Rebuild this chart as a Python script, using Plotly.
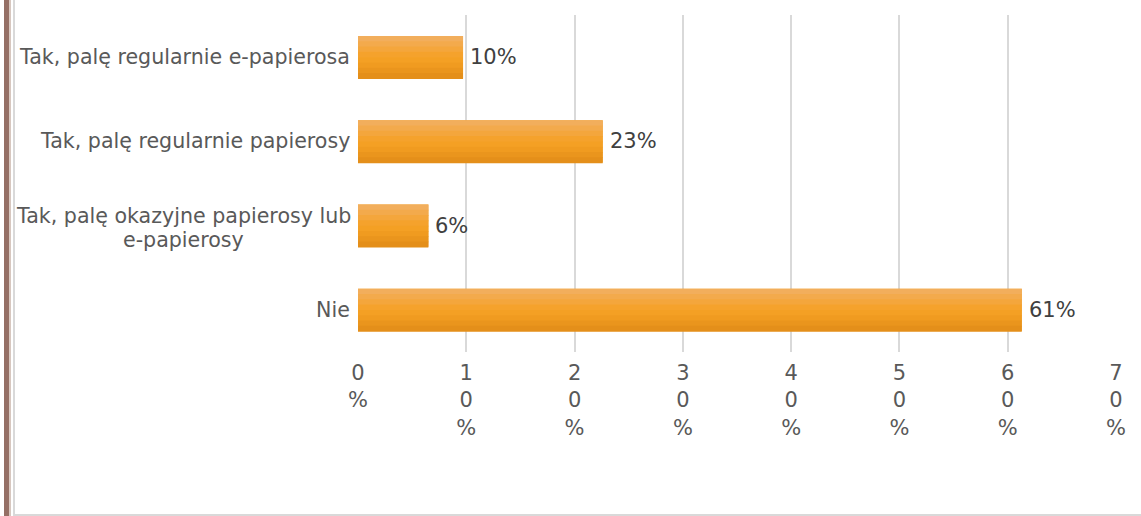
import plotly.graph_objects as go

categories = [
    "Tak, palę regularnie e-papierosa",
    "Tak, palę regularnie papierosy",
    "Tak, palę okazyjne papierosy lub<br>e-papierosy",
    "Nie",
]
values = [9.7, 22.6, 6.5, 61.3]
value_labels = ["10%", "23%", "6%", "61%"]
tick_vals = [0, 10, 20, 30, 40, 50, 60, 70]
tick_text = ["0<br>%", "1<br>0<br>%", "2<br>0<br>%", "3<br>0<br>%",
             "4<br>0<br>%", "5<br>0<br>%", "6<br>0<br>%", "7<br>0<br>%"]

W, H = 1141, 516
ML, MR, MT, MB = 358, 25, 15, 164
PW = W - ML - MR
PH = H - MT - MB

FONT = "DejaVu Sans"

fig = go.Figure()

# base bar
fig.add_trace(go.Bar(
    y=categories, x=values, orientation="h", width=0.5,
    marker=dict(color="#F29E25", line=dict(width=0)),
    hoverinfo="skip", showlegend=False,
))

# gradient slices (light top -> saturated middle -> darker bottom)
grad = ["#F2AE5C", "#F3AA4C", "#F4A63C", "#F5A22C", "#F4A024",
        "#F09B20", "#EA951D", "#E48F1A"]
n = len(grad)
sw = 0.5 / n
for i, c in enumerate(grad):
    fig.add_trace(go.Bar(
        y=categories, x=values, orientation="h",
        width=sw * 1.15, offset=-0.25 + i * sw,
        marker=dict(color=c, line=dict(width=0)),
        hoverinfo="skip", showlegend=False,
    ))

fig.update_layout(
    width=W, height=H,
    margin=dict(l=ML, r=MR, t=MT, b=MB),
    paper_bgcolor="white", plot_bgcolor="white",
    barmode="overlay", bargap=0.5,
    font=dict(family=FONT, color="#595959"),
    xaxis=dict(
        range=[0, 70], tickvals=tick_vals, ticktext=tick_text,
        showgrid=True, gridcolor="#D9D9D9", gridwidth=2,
        zeroline=False, showline=False, ticks="",
        ticklabelstandoff=6,
        tickfont=dict(family=FONT, size=21, color="#595959"),
        fixedrange=True,
    ),
    yaxis=dict(
        categoryorder="array", categoryarray=categories,
        autorange="reversed", showticklabels=False,
        showgrid=False, zeroline=False, showline=False, ticks="",
        fixedrange=True,
    ),
)

# data labels
for cat, v, lab in zip(categories, values, value_labels):
    fig.add_annotation(
        x=v, y=cat, xref="x", yref="y", text=lab, showarrow=False,
        xanchor="left", xshift=5,
        font=dict(family=FONT, size=21, color="#404040"),
    )

LABEL_SIZE = 20.6

# category labels as annotations (one per line)
for cat in categories:
    lines = cat.split("<br>")
    if len(lines) == 1:
        fig.add_annotation(
            x=0, y=cat, xref="x", yref="y", text=cat, showarrow=False,
            xanchor="right", xshift=-6,
            font=dict(family=FONT, size=LABEL_SIZE, color="#595959"),
        )
    else:
        for line, ys in zip(lines, [10, -14]):
            fig.add_annotation(
                x=(183 - ML) / PW, y=cat, xref="paper", yref="y",
                text=line, showarrow=False, xanchor="center", yshift=ys,
                font=dict(family=FONT, size=LABEL_SIZE, color="#595959"),
            )

# frame decorations
def px_x(p):
    return (p - ML) / PW

def px_y(p):
    return 1 - (p - MT) / PH

fig.add_shape(type="rect", xref="paper", yref="paper",
              x0=px_x(4), x1=px_x(9), y0=px_y(H), y1=px_y(0),
              fillcolor="#957066", line=dict(width=0))
fig.add_shape(type="line", xref="paper", yref="paper",
              x0=px_x(10), x1=px_x(10), y0=px_y(H), y1=px_y(0),
              line=dict(color="#B09080", width=1))
fig.add_shape(type="line", xref="paper", yref="paper",
              x0=px_x(14), x1=px_x(14), y0=px_y(H), y1=px_y(0),
              line=dict(color="#D9D9D9", width=2))
fig.add_shape(type="line", xref="paper", yref="paper",
              x0=px_x(14), x1=px_x(W), y0=px_y(515), y1=px_y(515),
              line=dict(color="#D9D9D9", width=2))

fig.write_html("out.html", config={"displayModeBar": False},
               post_script="document.body.style.margin='0';document.body.style.overflow='hidden';")
